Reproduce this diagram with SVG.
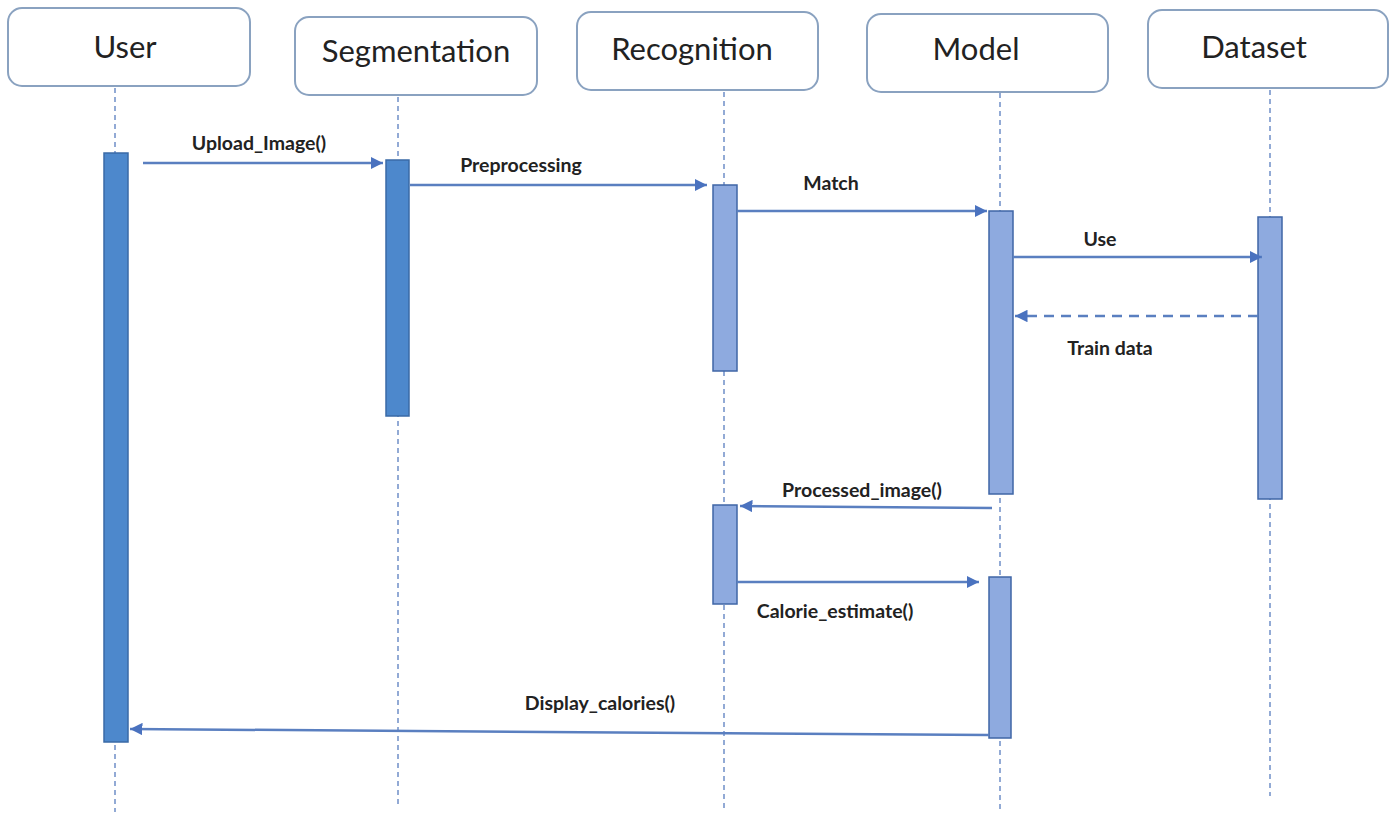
<svg xmlns="http://www.w3.org/2000/svg" width="1400" height="818" viewBox="0 0 1400 818">
<style>
.box{fill:#ffffff;stroke:#8aa2c0;stroke-width:2}
.htxt{font-family:Lato,"Liberation Sans",sans-serif;font-size:31px;fill:#222;text-anchor:middle}
.life{stroke:#6f8fc8;stroke-width:1.5;stroke-dasharray:5,4;fill:none}
.actA{fill:#4d88cc;stroke:#3a6aa6;stroke-width:1.5}
.actB{fill:#8eaadf;stroke:#3f66a6;stroke-width:1.5}
.msg{stroke:#5a7fc0;stroke-width:2.5;fill:none}
.dash{stroke-dasharray:10,7}
.mtxt{font-family:Lato,"Liberation Sans",sans-serif;font-size:19.5px;font-weight:bold;fill:#222;text-anchor:middle}
</style>
<defs>
<marker id="ah" viewBox="0 0 10 10" refX="10" refY="5" markerWidth="5" markerHeight="5" orient="auto-start-reverse" markerUnits="strokeWidth">
<path d="M0,0 L10,5 L0,10 z" fill="#4a72bf"/>
</marker>
</defs>
<rect width="1400" height="818" fill="#ffffff"/>
<g id="lifelines">
<line class="life" x1="115" y1="88" x2="115" y2="812"/>
<line class="life" x1="398" y1="97" x2="398" y2="806"/>
<line class="life" x1="724" y1="92" x2="724" y2="812"/>
<line class="life" x1="1000" y1="93" x2="1000" y2="812"/>
<line class="life" x1="1270" y1="90" x2="1270" y2="796"/>
</g>
<g id="user"><rect class="box" x="8" y="8" width="242" height="78" rx="14"/><text class="htxt" x="125" y="58">User</text></g>
<g id="segmentation"><rect class="box" x="295" y="17" width="242" height="78" rx="14"/><text class="htxt" x="416" y="62">Segmentation</text></g>
<g id="recognition"><rect class="box" x="577" y="12" width="241" height="78" rx="14"/><text class="htxt" x="692" y="60">Recognition</text></g>
<g id="model"><rect class="box" x="867" y="14" width="241" height="78" rx="14"/><text class="htxt" x="976" y="60">Model</text></g>
<g id="dataset"><rect class="box" x="1148" y="10" width="240" height="78" rx="14"/><text class="htxt" x="1254" y="58">Dataset</text></g>
<g id="activations">
<rect class="actA" x="104" y="153" width="24" height="589"/>
<rect class="actA" x="386" y="160" width="23" height="256"/>
<rect class="actB" x="713" y="185" width="24" height="186"/>
<rect class="actB" x="989" y="211" width="24" height="283"/>
<rect class="actB" x="1258" y="217" width="24" height="282"/>
<rect class="actB" x="713" y="505" width="24" height="99"/>
<rect class="actB" x="989" y="577" width="22" height="161"/>
</g>
<g id="connectors">
<line class="msg" x1="143" y1="163" x2="383" y2="163" marker-end="url(#ah)"/>
<line class="msg" x1="410" y1="185" x2="707" y2="185" marker-end="url(#ah)"/>
<line class="msg" x1="737" y1="211" x2="987" y2="211" marker-end="url(#ah)"/>
<line class="msg" x1="1013" y1="257" x2="1262" y2="257" marker-end="url(#ah)"/>
<line class="msg dash" x1="1258" y1="316" x2="1015" y2="316" marker-end="url(#ah)"/>
<line class="msg" x1="992" y1="508" x2="740" y2="506" marker-end="url(#ah)"/>
<line class="msg" x1="737" y1="582" x2="979" y2="582" marker-end="url(#ah)"/>
<line class="msg" x1="989" y1="735" x2="130" y2="729" marker-end="url(#ah)"/>
</g>
<g id="labels">
<text class="mtxt" x="259" y="150">Upload_Image()</text>
<text class="mtxt" x="521" y="172">Preprocessing</text>
<text class="mtxt" x="831" y="190">Match</text>
<text class="mtxt" x="1100" y="246">Use</text>
<text class="mtxt" x="1110" y="355">Train data</text>
<text class="mtxt" x="862" y="497">Processed_image()</text>
<text class="mtxt" x="835" y="618">Calorie_estimate()</text>
<text class="mtxt" x="600" y="710">Display_calories()</text>
</g>
</svg>
